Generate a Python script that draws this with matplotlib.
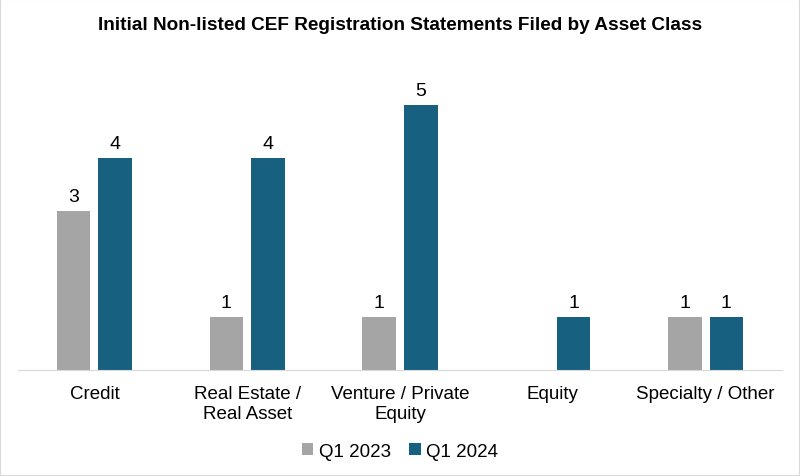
import numpy as np
import matplotlib.pyplot as plt

plt.rcParams['font.family'] = ['Liberation Sans', 'DejaVu Sans']

categories = ['Credit', 'Real Estate /\nReal Asset', 'Venture / Private\nEquity', 'Equity', 'Specialty / Other']
q1_2023 = [3, 1, 1, 0, 1]
q1_2024 = [4, 4, 5, 1, 1]

fig = plt.figure(figsize=(8, 4.77), dpi=100)
ax = fig.add_axes([0.0225, 0.2222, 0.955, 0.667])

x = np.arange(len(categories))
w = 0.22
off = 0.136
b1 = ax.bar(x - off, q1_2023, w, color='#A5A5A5', label='Q1 2023')
b2 = ax.bar(x + off, q1_2024, w, color='#17607F', label='Q1 2024')

for bars, vals in ((b1, q1_2023), (b2, q1_2024)):
    for b, v in zip(bars, vals):
        if v > 0:
            ax.text(b.get_x() + b.get_width() / 2, v + 0.12, str(v),
                    ha='center', va='bottom', fontsize=14)

ax.set_xlim(-0.5, len(categories) - 0.5)
ax.set_ylim(0, 6)
ax.set_yticks([])
ax.set_xticks(x)
ax.set_xticklabels(categories, fontsize=13.5, linespacing=1.2)
ax.tick_params(axis='x', length=0, pad=11)
for s in ['top', 'right', 'left']:
    ax.spines[s].set_visible(False)
ax.spines['bottom'].set_color('#D9D9D9')

fig.suptitle('Initial Non-listed CEF Registration Statements Filed by Asset Class',
             fontsize=13.7, fontweight='bold', y=0.965)
fig.legend(loc='center', bbox_to_anchor=(0.5, 0.052), ncol=2, frameon=False,
           fontsize=13.5, handlelength=0.6, handleheight=0.6, handletextpad=0.3,
           columnspacing=1.0)

fig.patches.append(plt.Rectangle((0, 0), 1, 1, transform=fig.transFigure,
                                 fill=False, edgecolor='#D9D9D9', linewidth=1.5))
fig.savefig('out.png', dpi=100)
